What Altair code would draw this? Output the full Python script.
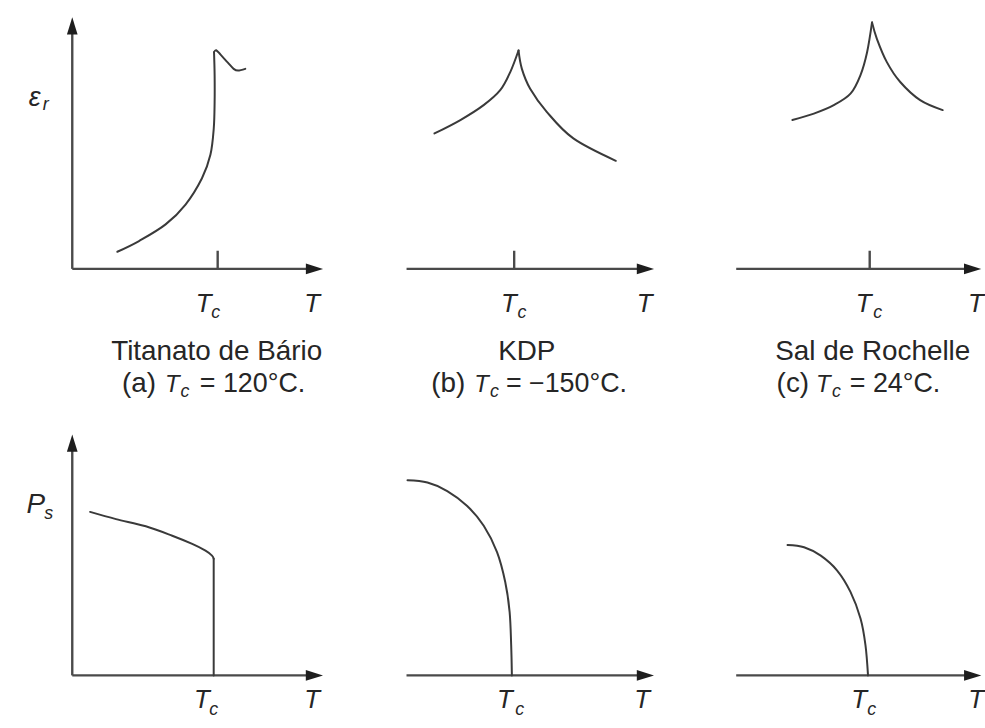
import altair as alt
import pandas as pd

# ------------------------------------------------------------------
# Curves: x = T / Tc, y = arbitrary units (schematic)
# ------------------------------------------------------------------
# (a) Barium titanate - dielectric constant
bto_eps_rise_T = [0.310, 0.459, 0.642, 0.779, 0.892, 0.950, 0.973, 0.979, 0.979, 0.975]
bto_eps_rise_v = [0.69, 1.12, 1.79, 2.59, 3.65, 4.59, 5.65, 6.72, 7.80, 8.72]
bto_eps_hook_T = [0.975, 0.990, 1.020, 1.070, 1.110, 1.140, 1.190]
bto_eps_hook_v = [8.72, 8.80, 8.62, 8.30, 8.05, 7.98, 8.05]

# (b) KDP - dielectric constant
kdp_eps_left_T = [0.452, 0.630, 0.790, 0.904, 0.973, 1.030]
kdp_eps_left_v = [5.45, 5.99, 6.59, 7.19, 7.92, 8.79]
kdp_eps_right_T = [1.030, 1.053, 1.110, 1.224, 1.407, 1.699]
kdp_eps_right_v = [8.79, 8.05, 7.25, 6.32, 5.25, 4.35]

# (c) Rochelle salt - dielectric constant
rs_eps_left_T = [0.468, 0.616, 0.753, 0.868, 0.936, 0.982, 1.016]
rs_eps_left_v = [5.99, 6.25, 6.59, 7.05, 7.79, 8.72, 9.92]
rs_eps_right_T = [1.016, 1.050, 1.118, 1.210, 1.347, 1.502]
rs_eps_right_v = [9.92, 9.25, 8.32, 7.52, 6.79, 6.39]

# (a) Barium titanate - spontaneous polarisation (first-order jump)
bto_ps_T = [0.126, 0.309, 0.520, 0.707, 0.848, 0.942, 0.988, 1.000]
bto_ps_v = [6.58, 6.29, 6.00, 5.62, 5.29, 5.02, 4.82, 4.69]
bto_ps_drop_T = [1.000, 1.000]
bto_ps_drop_v = [4.69, 0.0]

# (b) KDP - spontaneous polarisation
kdp_ps_T = [0.262, 0.403, 0.543, 0.684, 0.801, 0.895, 0.953, 0.984, 0.995, 1.000]
kdp_ps_v = [7.85, 7.76, 7.42, 6.82, 6.02, 4.96, 3.76, 2.56, 1.22, 0.0]

# (c) Rochelle salt - spontaneous polarisation
rs_ps_T = [0.431, 0.548, 0.666, 0.782, 0.876, 0.947, 0.982, 1.000]
rs_ps_v = [5.25, 5.16, 4.82, 4.22, 3.36, 2.29, 1.22, 0.0]

# Captions
materials = ["Titanato de Bário", "KDP", "Sal de Rochelle"]
tags = ["(a)", "(b)", "(c)"]
tc_values = ["= 120°C.", "= −150°C.", "= 24°C."]

# ------------------------------------------------------------------
# Panel geometry
# ------------------------------------------------------------------
COLS = [(0, 330), (330, 655), (655, 985)]
ROW_TOP = (0, 420, 268.3)      # y0, y1, axis position
ROW_BOT = (420, 728, 677.3)
VUNIT = 25.0

INK = "#262626"
LINE = "#3a3a3a"
AXIS = "#4a4a4a"
FONT = "Liberation Sans"

UP = "M0,0L0.62,2L-0.62,2Z"
RIGHT = "M0,0L-2,-0.62L-2,0.62Z"


def branches(*pairs):
    rows = []
    for b, (ts, vs) in enumerate(pairs):
        for i, (t, v) in enumerate(zip(ts, vs)):
            rows.append({"T": t, "v": v, "b": b, "i": i})
    return pd.DataFrame(rows)


def text_layer(X, Y, rows, **style):
    return alt.Chart(pd.DataFrame(rows)).mark_text(
        font=FONT, color=INK, baseline="alphabetic", **style).encode(
        x=X("x"), y=Y("y"), text="t:N")


def panel(col, row, tc_px, kx, curve, x_start, x_tip, y_tip=None,
          tick=None, labels=None, ylab=None, caption=None):
    X0, X1 = COLS[col]
    Y0, Y1, YA = row
    xs = alt.Scale(domain=[1 + (X0 - tc_px) / kx, 1 + (X1 - tc_px) / kx],
                   nice=False, zero=False)
    ys = alt.Scale(domain=[(YA - Y1) / VUNIT, (YA - Y0) / VUNIT],
                   nice=False, zero=False)
    X = lambda f: alt.X(f, type="quantitative", scale=xs, axis=None)
    Y = lambda f: alt.Y(f, type="quantitative", scale=ys, axis=None)

    # axis segments
    segs = [{"x0": x_start, "x1": x_tip - 0.05, "y0": 0.0, "y1": 0.0}]
    heads = [{"x": x_tip, "y": 0.0, "dir": "right"}]
    if y_tip is not None:
        segs.append({"x0": x_start, "x1": x_start, "y0": 0.0, "y1": y_tip - 0.3})
        heads.append({"x": x_start, "y": y_tip, "dir": "up"})
    if tick is not None:
        segs.append({"x0": 1.0, "x1": 1.0, "y0": 0.0, "y1": tick})

    axes = alt.Chart(pd.DataFrame(segs)).mark_rule(
        color=AXIS, strokeWidth=2.4).encode(
        x=X("x0"), x2="x1", y=Y("y0"), y2="y1")

    arrows = alt.Chart(pd.DataFrame(heads)).mark_point(
        filled=True, opacity=1, color="#1e1e1e", size=300, strokeWidth=0).encode(
        x=X("x"), y=Y("y"),
        shape=alt.Shape("dir:N", scale=alt.Scale(domain=["up", "right"],
                                                 range=[UP, RIGHT]), legend=None))

    line = alt.Chart(curve).mark_line(
        color=LINE, strokeWidth=2.0, interpolate="cardinal", tension=0.0,
        strokeCap="round", strokeJoin="round").encode(
        x=X("T"), y=Y("v"), detail="b:N", order="i:Q")

    layers = [axes, line, arrows]

    if labels is not None:
        (tx, cx, ax, by, cy) = labels
        layers.append(text_layer(X, Y, [{"x": tx, "y": by, "t": "T"},
                                        {"x": ax, "y": by, "t": "T"}],
                                 fontStyle="italic", fontSize=26, align="center"))
        layers.append(text_layer(X, Y, [{"x": cx, "y": cy, "t": "c"}],
                                 fontStyle="italic", fontSize=18, align="center"))
    if ylab is not None:
        (sym, sub, sx, sy, bx, bby, fs) = ylab
        layers.append(text_layer(X, Y, [{"x": sx, "y": sy, "t": sym}],
                                 fontStyle="italic", fontSize=fs, align="center"))
        layers.append(text_layer(X, Y, [{"x": bx, "y": bby, "t": sub}],
                                 fontStyle="italic", fontSize=18, align="center"))

    if caption is not None:
        (nx, ny, tag_end, t_x, c_x, val_x, ly, lcy) = caption
        layers.append(text_layer(X, Y, [{"x": nx, "y": ny, "t": materials[col]}],
                                 fontSize=28, align="center"))
        layers.append(text_layer(X, Y, [{"x": tag_end, "y": ly, "t": tags[col]}],
                                 fontSize=28, align="right"))
        layers.append(text_layer(X, Y, [{"x": t_x, "y": ly, "t": "T"}],
                                 fontStyle="italic", fontSize=24, align="left"))
        layers.append(text_layer(X, Y, [{"x": c_x, "y": lcy, "t": "c"}],
                                 fontStyle="italic", fontSize=18, align="left"))
        layers.append(text_layer(X, Y, [{"x": val_x, "y": ly, "t": tc_values[col]}],
                                 fontSize=27, align="left"))

    return alt.layer(*layers).properties(width=X1 - X0, height=Y1 - Y0)


KT, KB = 146.3, 142.3

top = [
    panel(0, ROW_TOP, 219.0, KT,
          branches((bto_eps_rise_T, bto_eps_rise_v), (bto_eps_hook_T, bto_eps_hook_v)),
          x_start=0.0, x_tip=1.725, y_tip=10.13, tick=0.73,
          labels=(0.904, 0.986, 1.649, -1.75, -1.99),
          ylab=("ε", "r", -0.258, 6.57, -0.183, 6.41, 27),
          caption=(0.993, -3.67, 0.576, 0.638, 0.745, 0.877, -4.95, -5.15)),
    panel(1, ROW_TOP, 517.3, KT,
          branches((kdp_eps_left_T, kdp_eps_left_v), (kdp_eps_right_T, kdp_eps_right_v)),
          x_start=0.260, x_tip=1.962, tick=0.73,
          labels=(0.964, 1.053, 1.898, -1.75, -1.99),
          caption=(1.087, -3.67, 0.663, 0.725, 0.834, 0.943, -4.95, -5.15)),
    panel(2, ROW_TOP, 871.0, KT,
          branches((rs_eps_left_T, rs_eps_left_v), (rs_eps_right_T, rs_eps_right_v)),
          x_start=0.082, x_tip=1.767, tick=0.73,
          labels=(0.959, 1.055, 1.731, -1.75, -1.99),
          caption=(1.021, -3.67, 0.583, 0.631, 0.740, 0.863, -4.95, -5.15)),
]

bottom = [
    panel(0, ROW_BOT, 215.0, KB,
          branches((bto_ps_T, bto_ps_v), (bto_ps_drop_T, bto_ps_drop_v)),
          x_start=0.0, x_tip=1.773, y_tip=9.69,
          labels=(0.916, 1.0, 1.696, -1.31, -1.59),
          ylab=("P", "s", -0.258, 6.53, -0.167, 6.29, 28)),
    panel(1, ROW_BOT, 515.0, KB,
          branches((kdp_ps_T, kdp_ps_v)),
          x_start=0.255, x_tip=2.005,
          labels=(0.951, 1.056, 1.921, -1.31, -1.59)),
    panel(2, ROW_BOT, 869.3, KB,
          branches((rs_ps_T, rs_ps_v)),
          x_start=0.068, x_tip=1.801,
          labels=(0.937, 1.026, 1.765, -1.31, -1.59)),
]

chart = alt.concat(*top, *bottom, columns=3, spacing=0).properties(
    padding=0, background="white"
).configure_view(stroke=None)

chart.save("out.html", embed_options={"renderer": "svg", "actions": False})
